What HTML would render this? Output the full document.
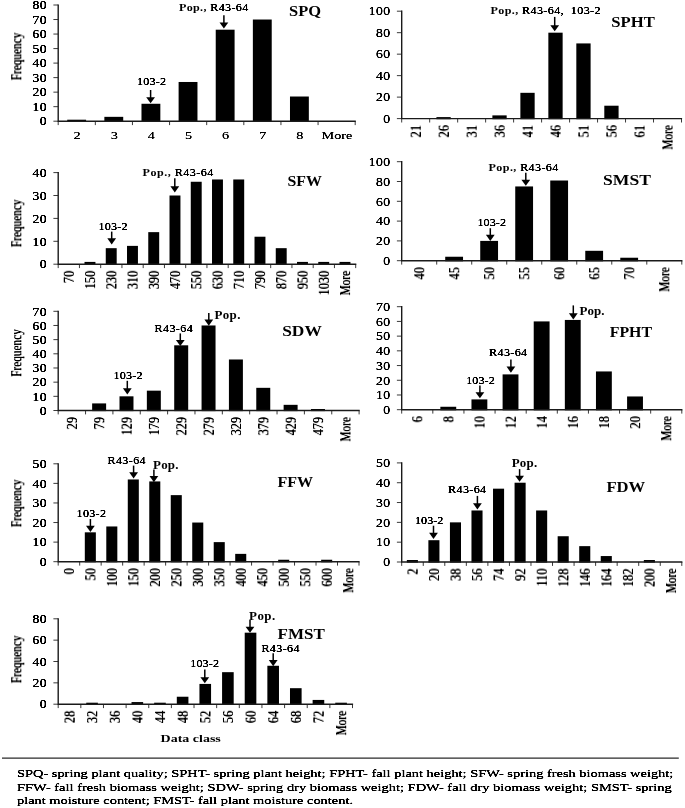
<!DOCTYPE html>
<html><head><meta charset="utf-8"><title>Histograms</title>
<style>
html,body{margin:0;padding:0;background:#fff;}
body{width:685px;height:808px;overflow:hidden;position:relative;font-family:"Liberation Serif", "DejaVu Serif", serif;}
svg{position:absolute;left:0;top:0;display:block;}
svg text{font-family:"Liberation Serif", "DejaVu Serif", serif;fill:#000;}
</style></head><body>
<svg width="685" height="808" viewBox="0 0 685 808">
<defs>
<filter id="f2" x="-10%" y="-30%" width="120%" height="160%"><feGaussianBlur stdDeviation="0.35"/><feComponentTransfer><feFuncA type="linear" slope="1.55" intercept="0"/></feComponentTransfer></filter>
<filter id="f3" x="-10%" y="-30%" width="120%" height="160%"><feGaussianBlur stdDeviation="0.45"/><feComponentTransfer><feFuncA type="linear" slope="2.0" intercept="0"/></feComponentTransfer></filter>
</defs>
<rect x="67.23" y="119.70" width="18.86" height="2.10" fill="#000"/>
<rect x="104.36" y="116.84" width="18.86" height="4.96" fill="#000"/>
<rect x="141.48" y="103.77" width="18.86" height="18.03" fill="#000"/>
<rect x="178.61" y="81.98" width="18.86" height="39.82" fill="#000"/>
<rect x="215.73" y="29.69" width="18.86" height="92.11" fill="#000"/>
<rect x="252.86" y="19.52" width="18.86" height="102.28" fill="#000"/>
<rect x="289.98" y="96.51" width="18.86" height="25.29" fill="#000"/>
<text transform="translate(46.90 125.45) scale(1.1 1)" font-size="12.4" text-anchor="end" letter-spacing="0.4" filter="url(#f3)">0</text>
<text transform="translate(46.90 110.92) scale(1.1 1)" font-size="12.4" text-anchor="end" letter-spacing="0.4" filter="url(#f3)">10</text>
<text transform="translate(46.90 96.40) scale(1.1 1)" font-size="12.4" text-anchor="end" letter-spacing="0.4" filter="url(#f3)">20</text>
<text transform="translate(46.90 81.88) scale(1.1 1)" font-size="12.4" text-anchor="end" letter-spacing="0.4" filter="url(#f3)">30</text>
<text transform="translate(46.90 67.35) scale(1.1 1)" font-size="12.4" text-anchor="end" letter-spacing="0.4" filter="url(#f3)">40</text>
<text transform="translate(46.90 52.83) scale(1.1 1)" font-size="12.4" text-anchor="end" letter-spacing="0.4" filter="url(#f3)">50</text>
<text transform="translate(46.90 38.30) scale(1.1 1)" font-size="12.4" text-anchor="end" letter-spacing="0.4" filter="url(#f3)">60</text>
<text transform="translate(46.90 23.77) scale(1.1 1)" font-size="12.4" text-anchor="end" letter-spacing="0.4" filter="url(#f3)">70</text>
<text transform="translate(46.90 9.25) scale(1.1 1)" font-size="12.4" text-anchor="end" letter-spacing="0.4" filter="url(#f3)">80</text>
<path d="M53.40 121.20H58.20M53.40 106.67H58.20M53.40 92.15H58.20M53.40 77.62H58.20M53.40 63.10H58.20M53.40 48.58H58.20M53.40 34.05H58.20M53.40 19.52H58.20M53.40 5.00H58.20M58.20 121.20V125.10M95.33 121.20V125.10M132.45 121.20V125.10M169.57 121.20V125.10M206.70 121.20V125.10M243.82 121.20V125.10M280.95 121.20V125.10M318.07 121.20V125.10M355.20 121.20V125.10" stroke="#3a3a3a" stroke-width="1" fill="none"/>
<path d="M58.20 4.40V121.20H355.80" stroke="#1a1a1a" stroke-width="1.4" fill="none"/>
<text transform="translate(77.06 138.50) scale(1.25 1)" font-size="11.4" text-anchor="middle" filter="url(#f2)">2</text>
<text transform="translate(114.19 138.50) scale(1.25 1)" font-size="11.4" text-anchor="middle" filter="url(#f2)">3</text>
<text transform="translate(151.31 138.50) scale(1.25 1)" font-size="11.4" text-anchor="middle" filter="url(#f2)">4</text>
<text transform="translate(188.44 138.50) scale(1.25 1)" font-size="11.4" text-anchor="middle" filter="url(#f2)">5</text>
<text transform="translate(225.56 138.50) scale(1.25 1)" font-size="11.4" text-anchor="middle" filter="url(#f2)">6</text>
<text transform="translate(262.69 138.50) scale(1.25 1)" font-size="11.4" text-anchor="middle" filter="url(#f2)">7</text>
<text transform="translate(299.81 138.50) scale(1.25 1)" font-size="11.4" text-anchor="middle" filter="url(#f2)">8</text>
<text transform="translate(336.94 138.50) scale(1.25 1)" font-size="11.4" text-anchor="middle" filter="url(#f2)">More</text>
<text x="289.00" y="15.80" font-size="13.8" textLength="32.00" lengthAdjust="spacingAndGlyphs" font-weight="bold">SPQ</text>
<text transform="translate(178.90 11.10) scale(1.1 1)" font-size="11.0" letter-spacing="0.319" font-weight="bold">Pop.,</text>
<text transform="translate(206.87 11.10) scale(1.1 1)" font-size="11.0" letter-spacing="0.319" xml:space="preserve" filter="url(#f3)"> R43-64</text>
<path d="M223.9 15.3V25.3" stroke="#000" stroke-width="1.5" fill="none"/>
<path d="M219.50 22.50L223.90 28.60L228.30 22.50Z" fill="#000"/>
<text transform="translate(137.10 84.90) scale(1.1 1)" font-size="11.0" textLength="26.36" lengthAdjust="spacing" filter="url(#f3)" xml:space="preserve">103-2</text>
<path d="M150.6 90V100" stroke="#000" stroke-width="1.5" fill="none"/>
<path d="M146.20 97.20L150.60 103.30L155.00 97.20Z" fill="#000"/>
<text transform="translate(21.3 56.50) rotate(-90) scale(1 1.31)" font-size="11.3" text-anchor="middle" filter="url(#f2)">Frequency</text>
<rect x="436.42" y="117.10" width="14.29" height="2.10" fill="#000"/>
<rect x="492.38" y="115.38" width="14.29" height="3.82" fill="#000"/>
<rect x="520.37" y="92.82" width="14.29" height="26.38" fill="#000"/>
<rect x="548.35" y="32.68" width="14.29" height="86.52" fill="#000"/>
<rect x="576.32" y="43.42" width="14.29" height="75.78" fill="#000"/>
<rect x="604.30" y="105.71" width="14.29" height="13.49" fill="#000"/>
<text transform="translate(390.40 122.85) scale(1.1 1)" font-size="12.4" text-anchor="end" letter-spacing="0.4" filter="url(#f3)">0</text>
<text transform="translate(390.40 101.37) scale(1.1 1)" font-size="12.4" text-anchor="end" letter-spacing="0.4" filter="url(#f3)">20</text>
<text transform="translate(390.40 79.89) scale(1.1 1)" font-size="12.4" text-anchor="end" letter-spacing="0.4" filter="url(#f3)">40</text>
<text transform="translate(390.40 58.41) scale(1.1 1)" font-size="12.4" text-anchor="end" letter-spacing="0.4" filter="url(#f3)">60</text>
<text transform="translate(390.40 36.93) scale(1.1 1)" font-size="12.4" text-anchor="end" letter-spacing="0.4" filter="url(#f3)">80</text>
<text transform="translate(390.40 15.45) scale(1.1 1)" font-size="12.4" text-anchor="end" letter-spacing="0.4" filter="url(#f3)">100</text>
<path d="M396.90 118.60H401.70M396.90 97.12H401.70M396.90 75.64H401.70M396.90 54.16H401.70M396.90 32.68H401.70M396.90 11.20H401.70M401.70 118.60V122.50M429.68 118.60V122.50M457.66 118.60V122.50M485.64 118.60V122.50M513.62 118.60V122.50M541.60 118.60V122.50M569.58 118.60V122.50M597.56 118.60V122.50M625.54 118.60V122.50M653.52 118.60V122.50M681.50 118.60V122.50" stroke="#3a3a3a" stroke-width="1" fill="none"/>
<path d="M401.70 10.60V118.60H682.10" stroke="#1a1a1a" stroke-width="1.4" fill="none"/>
<text transform="translate(420.69 125.20) rotate(-90) scale(1.0 1.2)" font-size="12.2" text-anchor="end" filter="url(#f2)">21</text>
<text transform="translate(448.67 125.20) rotate(-90) scale(1.0 1.2)" font-size="12.2" text-anchor="end" filter="url(#f2)">26</text>
<text transform="translate(476.65 125.20) rotate(-90) scale(1.0 1.2)" font-size="12.2" text-anchor="end" filter="url(#f2)">31</text>
<text transform="translate(504.63 125.20) rotate(-90) scale(1.0 1.2)" font-size="12.2" text-anchor="end" filter="url(#f2)">36</text>
<text transform="translate(532.61 125.20) rotate(-90) scale(1.0 1.2)" font-size="12.2" text-anchor="end" filter="url(#f2)">41</text>
<text transform="translate(560.59 125.20) rotate(-90) scale(1.0 1.2)" font-size="12.2" text-anchor="end" filter="url(#f2)">46</text>
<text transform="translate(588.57 125.20) rotate(-90) scale(1.0 1.2)" font-size="12.2" text-anchor="end" filter="url(#f2)">51</text>
<text transform="translate(616.55 125.20) rotate(-90) scale(1.0 1.2)" font-size="12.2" text-anchor="end" filter="url(#f2)">56</text>
<text transform="translate(644.53 125.20) rotate(-90) scale(1.0 1.2)" font-size="12.2" text-anchor="end" filter="url(#f2)">61</text>
<text transform="translate(672.51 125.20) rotate(-90) scale(1.0 1.2)" font-size="12.2" text-anchor="end" textLength="24.6" lengthAdjust="spacingAndGlyphs" filter="url(#f2)">More</text>
<text x="611.30" y="27.00" font-size="13.8" textLength="43.50" lengthAdjust="spacingAndGlyphs" font-weight="bold">SPHT</text>
<text transform="translate(490.60 13.70) scale(1.1 1)" font-size="11.0" letter-spacing="0.342" font-weight="bold">Pop.,</text>
<text transform="translate(518.70 13.70) scale(1.1 1)" font-size="11.0" letter-spacing="0.342" xml:space="preserve" filter="url(#f3)"> R43-64,  103-2</text>
<path d="M554.7 16.9V28" stroke="#000" stroke-width="1.5" fill="none"/>
<path d="M550.30 25.20L554.70 31.30L559.10 25.20Z" fill="#000"/>
<rect x="84.51" y="261.91" width="10.93" height="2.89" fill="#000"/>
<rect x="105.76" y="248.17" width="10.93" height="16.63" fill="#000"/>
<rect x="127.01" y="245.88" width="10.93" height="18.92" fill="#000"/>
<rect x="148.26" y="232.14" width="10.93" height="32.66" fill="#000"/>
<rect x="169.51" y="195.50" width="10.93" height="69.30" fill="#000"/>
<rect x="190.76" y="181.76" width="10.93" height="83.04" fill="#000"/>
<rect x="212.01" y="179.47" width="10.93" height="85.33" fill="#000"/>
<rect x="233.26" y="179.47" width="10.93" height="85.33" fill="#000"/>
<rect x="254.51" y="236.72" width="10.93" height="28.08" fill="#000"/>
<rect x="275.76" y="248.17" width="10.93" height="16.63" fill="#000"/>
<rect x="297.01" y="261.91" width="10.93" height="2.89" fill="#000"/>
<rect x="318.26" y="261.91" width="10.93" height="2.89" fill="#000"/>
<rect x="339.51" y="261.91" width="10.93" height="2.89" fill="#000"/>
<text transform="translate(46.90 268.45) scale(1.1 1)" font-size="12.4" text-anchor="end" letter-spacing="0.4" filter="url(#f3)">0</text>
<text transform="translate(46.90 245.55) scale(1.1 1)" font-size="12.4" text-anchor="end" letter-spacing="0.4" filter="url(#f3)">10</text>
<text transform="translate(46.90 222.65) scale(1.1 1)" font-size="12.4" text-anchor="end" letter-spacing="0.4" filter="url(#f3)">20</text>
<text transform="translate(46.90 199.75) scale(1.1 1)" font-size="12.4" text-anchor="end" letter-spacing="0.4" filter="url(#f3)">30</text>
<text transform="translate(46.90 176.85) scale(1.1 1)" font-size="12.4" text-anchor="end" letter-spacing="0.4" filter="url(#f3)">40</text>
<path d="M53.40 264.20H58.20M53.40 241.30H58.20M53.40 218.40H58.20M53.40 195.50H58.20M53.40 172.60H58.20M58.20 264.20V268.10M79.45 264.20V268.10M100.70 264.20V268.10M121.95 264.20V268.10M143.20 264.20V268.10M164.45 264.20V268.10M185.70 264.20V268.10M206.95 264.20V268.10M228.20 264.20V268.10M249.45 264.20V268.10M270.70 264.20V268.10M291.95 264.20V268.10M313.20 264.20V268.10M334.45 264.20V268.10M355.70 264.20V268.10" stroke="#3a3a3a" stroke-width="1" fill="none"/>
<path d="M58.20 172.00V264.20H356.30" stroke="#1a1a1a" stroke-width="1.4" fill="none"/>
<text transform="translate(73.83 270.80) rotate(-90) scale(1.0 1.2)" font-size="12.2" text-anchor="end" filter="url(#f2)">70</text>
<text transform="translate(95.08 270.80) rotate(-90) scale(1.0 1.2)" font-size="12.2" text-anchor="end" filter="url(#f2)">150</text>
<text transform="translate(116.33 270.80) rotate(-90) scale(1.0 1.2)" font-size="12.2" text-anchor="end" filter="url(#f2)">230</text>
<text transform="translate(137.57 270.80) rotate(-90) scale(1.0 1.2)" font-size="12.2" text-anchor="end" filter="url(#f2)">310</text>
<text transform="translate(158.82 270.80) rotate(-90) scale(1.0 1.2)" font-size="12.2" text-anchor="end" filter="url(#f2)">390</text>
<text transform="translate(180.07 270.80) rotate(-90) scale(1.0 1.2)" font-size="12.2" text-anchor="end" filter="url(#f2)">470</text>
<text transform="translate(201.32 270.80) rotate(-90) scale(1.0 1.2)" font-size="12.2" text-anchor="end" filter="url(#f2)">550</text>
<text transform="translate(222.57 270.80) rotate(-90) scale(1.0 1.2)" font-size="12.2" text-anchor="end" filter="url(#f2)">630</text>
<text transform="translate(243.82 270.80) rotate(-90) scale(1.0 1.2)" font-size="12.2" text-anchor="end" filter="url(#f2)">710</text>
<text transform="translate(265.07 270.80) rotate(-90) scale(1.0 1.2)" font-size="12.2" text-anchor="end" filter="url(#f2)">790</text>
<text transform="translate(286.32 270.80) rotate(-90) scale(1.0 1.2)" font-size="12.2" text-anchor="end" filter="url(#f2)">870</text>
<text transform="translate(307.57 270.80) rotate(-90) scale(1.0 1.2)" font-size="12.2" text-anchor="end" filter="url(#f2)">950</text>
<text transform="translate(328.82 270.80) rotate(-90) scale(1.0 1.2)" font-size="12.2" text-anchor="end" filter="url(#f2)">1030</text>
<text transform="translate(350.07 270.80) rotate(-90) scale(1.0 1.2)" font-size="12.2" text-anchor="end" textLength="24.6" lengthAdjust="spacingAndGlyphs" filter="url(#f2)">More</text>
<text x="287.40" y="185.50" font-size="13.8" textLength="34.40" lengthAdjust="spacingAndGlyphs" font-weight="bold">SFW</text>
<text transform="translate(142.60 176.00) scale(1.1 1)" font-size="11.0" letter-spacing="0.434" font-weight="bold">Pop.,</text>
<text transform="translate(171.21 176.00) scale(1.1 1)" font-size="11.0" letter-spacing="0.434" xml:space="preserve" filter="url(#f3)"> R43-64</text>
<path d="M174.8 178.2V189.1" stroke="#000" stroke-width="1.5" fill="none"/>
<path d="M170.40 186.30L174.80 192.40L179.20 186.30Z" fill="#000"/>
<text transform="translate(98.40 229.80) scale(1.1 1)" font-size="11.0" textLength="26.45" lengthAdjust="spacing" filter="url(#f3)" xml:space="preserve">103-2</text>
<path d="M111.7 231.6V241.1" stroke="#000" stroke-width="1.5" fill="none"/>
<path d="M107.30 238.30L111.70 244.40L116.10 238.30Z" fill="#000"/>
<text transform="translate(21.3 223.40) rotate(-90) scale(1 1.31)" font-size="11.3" text-anchor="middle" filter="url(#f2)">Frequency</text>
<rect x="445.22" y="256.74" width="17.81" height="4.56" fill="#000"/>
<rect x="480.23" y="240.90" width="17.81" height="20.40" fill="#000"/>
<rect x="515.24" y="186.45" width="17.81" height="74.85" fill="#000"/>
<rect x="550.25" y="180.51" width="17.81" height="80.79" fill="#000"/>
<rect x="585.27" y="250.80" width="17.81" height="10.50" fill="#000"/>
<rect x="620.28" y="257.73" width="17.81" height="3.57" fill="#000"/>
<text transform="translate(390.40 264.95) scale(1.1 1)" font-size="12.4" text-anchor="end" letter-spacing="0.4" filter="url(#f3)">0</text>
<text transform="translate(390.40 245.15) scale(1.1 1)" font-size="12.4" text-anchor="end" letter-spacing="0.4" filter="url(#f3)">20</text>
<text transform="translate(390.40 225.35) scale(1.1 1)" font-size="12.4" text-anchor="end" letter-spacing="0.4" filter="url(#f3)">40</text>
<text transform="translate(390.40 205.55) scale(1.1 1)" font-size="12.4" text-anchor="end" letter-spacing="0.4" filter="url(#f3)">60</text>
<text transform="translate(390.40 185.75) scale(1.1 1)" font-size="12.4" text-anchor="end" letter-spacing="0.4" filter="url(#f3)">80</text>
<text transform="translate(390.40 165.95) scale(1.1 1)" font-size="12.4" text-anchor="end" letter-spacing="0.4" filter="url(#f3)">100</text>
<path d="M396.90 260.70H401.70M396.90 240.90H401.70M396.90 221.10H401.70M396.90 201.30H401.70M396.90 181.50H401.70M396.90 161.70H401.70M401.70 260.70V264.60M436.71 260.70V264.60M471.72 260.70V264.60M506.74 260.70V264.60M541.75 260.70V264.60M576.76 260.70V264.60M611.77 260.70V264.60M646.79 260.70V264.60M681.80 260.70V264.60" stroke="#3a3a3a" stroke-width="1" fill="none"/>
<path d="M401.70 161.10V260.70H682.40" stroke="#1a1a1a" stroke-width="1.4" fill="none"/>
<text transform="translate(424.21 267.30) rotate(-90) scale(1.0 1.2)" font-size="12.2" text-anchor="end" filter="url(#f2)">40</text>
<text transform="translate(459.22 267.30) rotate(-90) scale(1.0 1.2)" font-size="12.2" text-anchor="end" filter="url(#f2)">45</text>
<text transform="translate(494.23 267.30) rotate(-90) scale(1.0 1.2)" font-size="12.2" text-anchor="end" filter="url(#f2)">50</text>
<text transform="translate(529.24 267.30) rotate(-90) scale(1.0 1.2)" font-size="12.2" text-anchor="end" filter="url(#f2)">55</text>
<text transform="translate(564.26 267.30) rotate(-90) scale(1.0 1.2)" font-size="12.2" text-anchor="end" filter="url(#f2)">60</text>
<text transform="translate(599.27 267.30) rotate(-90) scale(1.0 1.2)" font-size="12.2" text-anchor="end" filter="url(#f2)">65</text>
<text transform="translate(634.28 267.30) rotate(-90) scale(1.0 1.2)" font-size="12.2" text-anchor="end" filter="url(#f2)">70</text>
<text transform="translate(669.29 267.30) rotate(-90) scale(1.0 1.2)" font-size="12.2" text-anchor="end" textLength="24.6" lengthAdjust="spacingAndGlyphs" filter="url(#f2)">More</text>
<text x="603.00" y="184.50" font-size="13.8" textLength="47.90" lengthAdjust="spacingAndGlyphs" font-weight="bold">SMST</text>
<text transform="translate(488.60 170.60) scale(1.1 1)" font-size="11.0" letter-spacing="0.352" font-weight="bold">Pop.,</text>
<text transform="translate(516.75 170.60) scale(1.1 1)" font-size="11.0" letter-spacing="0.352" xml:space="preserve" filter="url(#f3)"> R43-64</text>
<path d="M525.8 172.8V182.5" stroke="#000" stroke-width="1.5" fill="none"/>
<path d="M521.40 179.70L525.80 185.80L530.20 179.70Z" fill="#000"/>
<text transform="translate(477.40 225.70) scale(1.1 1)" font-size="11.0" textLength="26.00" lengthAdjust="spacing" filter="url(#f3)" xml:space="preserve">103-2</text>
<path d="M490.3 228.2V237.6" stroke="#000" stroke-width="1.5" fill="none"/>
<path d="M485.90 234.80L490.30 240.90L494.70 234.80Z" fill="#000"/>
<rect x="92.14" y="403.41" width="13.98" height="7.69" fill="#000"/>
<rect x="119.50" y="396.33" width="13.98" height="14.77" fill="#000"/>
<rect x="146.85" y="390.66" width="13.98" height="20.44" fill="#000"/>
<rect x="174.21" y="345.31" width="13.98" height="65.79" fill="#000"/>
<rect x="201.56" y="325.47" width="13.98" height="85.63" fill="#000"/>
<rect x="228.92" y="359.48" width="13.98" height="51.62" fill="#000"/>
<rect x="256.27" y="387.83" width="13.98" height="23.27" fill="#000"/>
<rect x="283.63" y="404.83" width="13.98" height="6.27" fill="#000"/>
<rect x="310.98" y="409.00" width="13.98" height="2.10" fill="#000"/>
<text transform="translate(46.90 414.75) scale(1.1 1)" font-size="12.4" text-anchor="end" letter-spacing="0.4" filter="url(#f3)">0</text>
<text transform="translate(46.90 400.58) scale(1.1 1)" font-size="12.4" text-anchor="end" letter-spacing="0.4" filter="url(#f3)">10</text>
<text transform="translate(46.90 386.41) scale(1.1 1)" font-size="12.4" text-anchor="end" letter-spacing="0.4" filter="url(#f3)">20</text>
<text transform="translate(46.90 372.24) scale(1.1 1)" font-size="12.4" text-anchor="end" letter-spacing="0.4" filter="url(#f3)">30</text>
<text transform="translate(46.90 358.06) scale(1.1 1)" font-size="12.4" text-anchor="end" letter-spacing="0.4" filter="url(#f3)">40</text>
<text transform="translate(46.90 343.89) scale(1.1 1)" font-size="12.4" text-anchor="end" letter-spacing="0.4" filter="url(#f3)">50</text>
<text transform="translate(46.90 329.72) scale(1.1 1)" font-size="12.4" text-anchor="end" letter-spacing="0.4" filter="url(#f3)">60</text>
<text transform="translate(46.90 315.55) scale(1.1 1)" font-size="12.4" text-anchor="end" letter-spacing="0.4" filter="url(#f3)">70</text>
<path d="M53.40 410.50H58.20M53.40 396.33H58.20M53.40 382.16H58.20M53.40 367.99H58.20M53.40 353.81H58.20M53.40 339.64H58.20M53.40 325.47H58.20M53.40 311.30H58.20M58.20 410.50V414.40M85.55 410.50V414.40M112.91 410.50V414.40M140.26 410.50V414.40M167.62 410.50V414.40M194.97 410.50V414.40M222.33 410.50V414.40M249.68 410.50V414.40M277.04 410.50V414.40M304.39 410.50V414.40M331.75 410.50V414.40M359.10 410.50V414.40" stroke="#3a3a3a" stroke-width="1" fill="none"/>
<path d="M58.20 310.70V410.50H359.70" stroke="#1a1a1a" stroke-width="1.4" fill="none"/>
<text transform="translate(76.88 417.10) rotate(-90) scale(1.0 1.2)" font-size="12.2" text-anchor="end" filter="url(#f2)">29</text>
<text transform="translate(104.23 417.10) rotate(-90) scale(1.0 1.2)" font-size="12.2" text-anchor="end" filter="url(#f2)">79</text>
<text transform="translate(131.59 417.10) rotate(-90) scale(1.0 1.2)" font-size="12.2" text-anchor="end" filter="url(#f2)">129</text>
<text transform="translate(158.94 417.10) rotate(-90) scale(1.0 1.2)" font-size="12.2" text-anchor="end" filter="url(#f2)">179</text>
<text transform="translate(186.30 417.10) rotate(-90) scale(1.0 1.2)" font-size="12.2" text-anchor="end" filter="url(#f2)">229</text>
<text transform="translate(213.65 417.10) rotate(-90) scale(1.0 1.2)" font-size="12.2" text-anchor="end" filter="url(#f2)">279</text>
<text transform="translate(241.00 417.10) rotate(-90) scale(1.0 1.2)" font-size="12.2" text-anchor="end" filter="url(#f2)">329</text>
<text transform="translate(268.36 417.10) rotate(-90) scale(1.0 1.2)" font-size="12.2" text-anchor="end" filter="url(#f2)">379</text>
<text transform="translate(295.71 417.10) rotate(-90) scale(1.0 1.2)" font-size="12.2" text-anchor="end" filter="url(#f2)">429</text>
<text transform="translate(323.07 417.10) rotate(-90) scale(1.0 1.2)" font-size="12.2" text-anchor="end" filter="url(#f2)">479</text>
<text transform="translate(350.42 417.10) rotate(-90) scale(1.0 1.2)" font-size="12.2" text-anchor="end" textLength="24.6" lengthAdjust="spacingAndGlyphs" filter="url(#f2)">More</text>
<text x="282.20" y="335.50" font-size="13.8" textLength="39.60" lengthAdjust="spacingAndGlyphs" font-weight="bold">SDW</text>
<text transform="translate(214.40 319.10) scale(1.1 1)" font-size="11.8" textLength="23.64" lengthAdjust="spacing" font-weight="bold" xml:space="preserve">Pop.</text>
<path d="M208.8 313V322.4" stroke="#000" stroke-width="1.5" fill="none"/>
<path d="M204.40 319.60L208.80 325.70L213.20 319.60Z" fill="#000"/>
<text transform="translate(154.60 331.90) scale(1.1 1)" font-size="11.0" textLength="34.64" lengthAdjust="spacing" filter="url(#f3)" xml:space="preserve">R43-64</text>
<path d="M180.3 333.4V342.8" stroke="#000" stroke-width="1.5" fill="none"/>
<path d="M175.90 340.00L180.30 346.10L184.70 340.00Z" fill="#000"/>
<text transform="translate(113.50 379.10) scale(1.1 1)" font-size="11.0" textLength="26.45" lengthAdjust="spacing" filter="url(#f3)" xml:space="preserve">103-2</text>
<path d="M127.3 380.8V391.1" stroke="#000" stroke-width="1.5" fill="none"/>
<path d="M122.90 388.30L127.30 394.40L131.70 388.30Z" fill="#000"/>
<text transform="translate(21.3 353.00) rotate(-90) scale(1 1.31)" font-size="11.3" text-anchor="middle" filter="url(#f2)">Frequency</text>
<rect x="440.35" y="406.76" width="15.86" height="3.54" fill="#000"/>
<rect x="471.47" y="399.40" width="15.86" height="10.90" fill="#000"/>
<rect x="502.60" y="374.39" width="15.86" height="35.91" fill="#000"/>
<rect x="533.72" y="321.41" width="15.86" height="88.89" fill="#000"/>
<rect x="564.84" y="319.94" width="15.86" height="90.36" fill="#000"/>
<rect x="595.96" y="371.44" width="15.86" height="38.86" fill="#000"/>
<rect x="627.09" y="396.46" width="15.86" height="13.84" fill="#000"/>
<text transform="translate(390.40 413.95) scale(1.1 1)" font-size="12.4" text-anchor="end" letter-spacing="0.4" filter="url(#f3)">0</text>
<text transform="translate(390.40 399.24) scale(1.1 1)" font-size="12.4" text-anchor="end" letter-spacing="0.4" filter="url(#f3)">10</text>
<text transform="translate(390.40 384.52) scale(1.1 1)" font-size="12.4" text-anchor="end" letter-spacing="0.4" filter="url(#f3)">20</text>
<text transform="translate(390.40 369.81) scale(1.1 1)" font-size="12.4" text-anchor="end" letter-spacing="0.4" filter="url(#f3)">30</text>
<text transform="translate(390.40 355.09) scale(1.1 1)" font-size="12.4" text-anchor="end" letter-spacing="0.4" filter="url(#f3)">40</text>
<text transform="translate(390.40 340.38) scale(1.1 1)" font-size="12.4" text-anchor="end" letter-spacing="0.4" filter="url(#f3)">50</text>
<text transform="translate(390.40 325.66) scale(1.1 1)" font-size="12.4" text-anchor="end" letter-spacing="0.4" filter="url(#f3)">60</text>
<text transform="translate(390.40 310.95) scale(1.1 1)" font-size="12.4" text-anchor="end" letter-spacing="0.4" filter="url(#f3)">70</text>
<path d="M396.90 409.70H401.70M396.90 394.99H401.70M396.90 380.27H401.70M396.90 365.56H401.70M396.90 350.84H401.70M396.90 336.13H401.70M396.90 321.41H401.70M396.90 306.70H401.70M401.70 409.70V413.60M432.82 409.70V413.60M463.94 409.70V413.60M495.07 409.70V413.60M526.19 409.70V413.60M557.31 409.70V413.60M588.43 409.70V413.60M619.56 409.70V413.60M650.68 409.70V413.60M681.80 409.70V413.60" stroke="#3a3a3a" stroke-width="1" fill="none"/>
<path d="M401.70 306.10V409.70H682.40" stroke="#1a1a1a" stroke-width="1.4" fill="none"/>
<text transform="translate(422.26 416.30) rotate(-90) scale(1.0 1.2)" font-size="12.2" text-anchor="end" filter="url(#f2)">6</text>
<text transform="translate(453.38 416.30) rotate(-90) scale(1.0 1.2)" font-size="12.2" text-anchor="end" filter="url(#f2)">8</text>
<text transform="translate(484.51 416.30) rotate(-90) scale(1.0 1.2)" font-size="12.2" text-anchor="end" filter="url(#f2)">10</text>
<text transform="translate(515.63 416.30) rotate(-90) scale(1.0 1.2)" font-size="12.2" text-anchor="end" filter="url(#f2)">12</text>
<text transform="translate(546.75 416.30) rotate(-90) scale(1.0 1.2)" font-size="12.2" text-anchor="end" filter="url(#f2)">14</text>
<text transform="translate(577.87 416.30) rotate(-90) scale(1.0 1.2)" font-size="12.2" text-anchor="end" filter="url(#f2)">16</text>
<text transform="translate(608.99 416.30) rotate(-90) scale(1.0 1.2)" font-size="12.2" text-anchor="end" filter="url(#f2)">18</text>
<text transform="translate(640.12 416.30) rotate(-90) scale(1.0 1.2)" font-size="12.2" text-anchor="end" filter="url(#f2)">20</text>
<text transform="translate(671.24 416.30) rotate(-90) scale(1.0 1.2)" font-size="12.2" text-anchor="end" textLength="24.6" lengthAdjust="spacingAndGlyphs" filter="url(#f2)">More</text>
<text x="609.70" y="336.90" font-size="13.8" textLength="42.40" lengthAdjust="spacingAndGlyphs" font-weight="bold">FPHT</text>
<text transform="translate(579.50 314.90) scale(1.1 1)" font-size="11.8" textLength="22.64" lengthAdjust="spacing" font-weight="bold" xml:space="preserve">Pop.</text>
<path d="M573.3 305.4V316.1" stroke="#000" stroke-width="1.5" fill="none"/>
<path d="M568.90 313.30L573.30 319.40L577.70 313.30Z" fill="#000"/>
<text transform="translate(489.10 356.30) scale(1.1 1)" font-size="11.0" textLength="34.55" lengthAdjust="spacing" filter="url(#f3)" xml:space="preserve">R43-64</text>
<path d="M510.9 359.5V369.4" stroke="#000" stroke-width="1.5" fill="none"/>
<path d="M506.50 366.60L510.90 372.70L515.30 366.60Z" fill="#000"/>
<text transform="translate(466.20 383.60) scale(1.1 1)" font-size="11.0" textLength="26.00" lengthAdjust="spacing" filter="url(#f3)" xml:space="preserve">103-2</text>
<path d="M479.9 385.6V395" stroke="#000" stroke-width="1.5" fill="none"/>
<path d="M475.50 392.20L479.90 398.30L484.30 392.20Z" fill="#000"/>
<rect x="84.81" y="532.33" width="11.04" height="29.97" fill="#000"/>
<rect x="106.29" y="526.46" width="11.04" height="35.84" fill="#000"/>
<rect x="127.78" y="479.46" width="11.04" height="82.84" fill="#000"/>
<rect x="149.26" y="481.42" width="11.04" height="80.88" fill="#000"/>
<rect x="170.75" y="495.13" width="11.04" height="67.17" fill="#000"/>
<rect x="192.24" y="522.54" width="11.04" height="39.76" fill="#000"/>
<rect x="213.72" y="542.12" width="11.04" height="20.18" fill="#000"/>
<rect x="235.21" y="553.87" width="11.04" height="8.43" fill="#000"/>
<rect x="278.18" y="559.74" width="11.04" height="2.56" fill="#000"/>
<rect x="321.15" y="559.74" width="11.04" height="2.56" fill="#000"/>
<text transform="translate(46.90 565.95) scale(1.1 1)" font-size="12.4" text-anchor="end" letter-spacing="0.4" filter="url(#f3)">0</text>
<text transform="translate(46.90 546.37) scale(1.1 1)" font-size="12.4" text-anchor="end" letter-spacing="0.4" filter="url(#f3)">10</text>
<text transform="translate(46.90 526.79) scale(1.1 1)" font-size="12.4" text-anchor="end" letter-spacing="0.4" filter="url(#f3)">20</text>
<text transform="translate(46.90 507.21) scale(1.1 1)" font-size="12.4" text-anchor="end" letter-spacing="0.4" filter="url(#f3)">30</text>
<text transform="translate(46.90 487.63) scale(1.1 1)" font-size="12.4" text-anchor="end" letter-spacing="0.4" filter="url(#f3)">40</text>
<text transform="translate(46.90 468.05) scale(1.1 1)" font-size="12.4" text-anchor="end" letter-spacing="0.4" filter="url(#f3)">50</text>
<path d="M53.40 561.70H58.20M53.40 542.12H58.20M53.40 522.54H58.20M53.40 502.96H58.20M53.40 483.38H58.20M53.40 463.80H58.20M58.20 561.70V565.60M79.69 561.70V565.60M101.17 561.70V565.60M122.66 561.70V565.60M144.14 561.70V565.60M165.63 561.70V565.60M187.11 561.70V565.60M208.60 561.70V565.60M230.09 561.70V565.60M251.57 561.70V565.60M273.06 561.70V565.60M294.54 561.70V565.60M316.03 561.70V565.60M337.51 561.70V565.60M359.00 561.70V565.60" stroke="#3a3a3a" stroke-width="1" fill="none"/>
<path d="M58.20 463.20V561.70H359.60" stroke="#1a1a1a" stroke-width="1.4" fill="none"/>
<text transform="translate(73.94 568.30) rotate(-90) scale(1.0 1.2)" font-size="12.2" text-anchor="end" filter="url(#f2)">0</text>
<text transform="translate(95.43 568.30) rotate(-90) scale(1.0 1.2)" font-size="12.2" text-anchor="end" filter="url(#f2)">50</text>
<text transform="translate(116.91 568.30) rotate(-90) scale(1.0 1.2)" font-size="12.2" text-anchor="end" filter="url(#f2)">100</text>
<text transform="translate(138.40 568.30) rotate(-90) scale(1.0 1.2)" font-size="12.2" text-anchor="end" filter="url(#f2)">150</text>
<text transform="translate(159.89 568.30) rotate(-90) scale(1.0 1.2)" font-size="12.2" text-anchor="end" filter="url(#f2)">200</text>
<text transform="translate(181.37 568.30) rotate(-90) scale(1.0 1.2)" font-size="12.2" text-anchor="end" filter="url(#f2)">250</text>
<text transform="translate(202.86 568.30) rotate(-90) scale(1.0 1.2)" font-size="12.2" text-anchor="end" filter="url(#f2)">300</text>
<text transform="translate(224.34 568.30) rotate(-90) scale(1.0 1.2)" font-size="12.2" text-anchor="end" filter="url(#f2)">350</text>
<text transform="translate(245.83 568.30) rotate(-90) scale(1.0 1.2)" font-size="12.2" text-anchor="end" filter="url(#f2)">400</text>
<text transform="translate(267.31 568.30) rotate(-90) scale(1.0 1.2)" font-size="12.2" text-anchor="end" filter="url(#f2)">450</text>
<text transform="translate(288.80 568.30) rotate(-90) scale(1.0 1.2)" font-size="12.2" text-anchor="end" filter="url(#f2)">500</text>
<text transform="translate(310.29 568.30) rotate(-90) scale(1.0 1.2)" font-size="12.2" text-anchor="end" filter="url(#f2)">550</text>
<text transform="translate(331.77 568.30) rotate(-90) scale(1.0 1.2)" font-size="12.2" text-anchor="end" filter="url(#f2)">600</text>
<text transform="translate(353.26 568.30) rotate(-90) scale(1.0 1.2)" font-size="12.2" text-anchor="end" textLength="24.6" lengthAdjust="spacingAndGlyphs" filter="url(#f2)">More</text>
<text x="277.50" y="486.70" font-size="13.8" textLength="35.60" lengthAdjust="spacingAndGlyphs" font-weight="bold">FFW</text>
<text transform="translate(107.50 464.30) scale(1.1 1)" font-size="11.0" textLength="34.64" lengthAdjust="spacing" filter="url(#f3)" xml:space="preserve">R43-64</text>
<path d="M133.6 465.6V475.1" stroke="#000" stroke-width="1.5" fill="none"/>
<path d="M129.20 472.30L133.60 478.40L138.00 472.30Z" fill="#000"/>
<text transform="translate(153.10 469.20) scale(1.1 1)" font-size="11.8" textLength="23.09" lengthAdjust="spacing" font-weight="bold" xml:space="preserve">Pop.</text>
<path d="M153.9 469.6V478.9" stroke="#000" stroke-width="1.5" fill="none"/>
<path d="M149.50 476.10L153.90 482.20L158.30 476.10Z" fill="#000"/>
<text transform="translate(76.60 517.00) scale(1.1 1)" font-size="11.0" textLength="26.73" lengthAdjust="spacing" filter="url(#f3)" xml:space="preserve">103-2</text>
<path d="M90.4 519V528.6" stroke="#000" stroke-width="1.5" fill="none"/>
<path d="M86.00 525.80L90.40 531.90L94.80 525.80Z" fill="#000"/>
<text transform="translate(21.3 503.40) rotate(-90) scale(1 1.31)" font-size="11.3" text-anchor="middle" filter="url(#f2)">Frequency</text>
<rect x="406.84" y="560.02" width="11.07" height="2.58" fill="#000"/>
<rect x="428.38" y="540.20" width="11.07" height="22.40" fill="#000"/>
<rect x="449.93" y="522.36" width="11.07" height="40.24" fill="#000"/>
<rect x="471.47" y="510.47" width="11.07" height="52.13" fill="#000"/>
<rect x="493.02" y="488.67" width="11.07" height="73.93" fill="#000"/>
<rect x="514.57" y="482.72" width="11.07" height="79.88" fill="#000"/>
<rect x="536.11" y="510.47" width="11.07" height="52.13" fill="#000"/>
<rect x="557.66" y="536.23" width="11.07" height="26.37" fill="#000"/>
<rect x="579.21" y="546.14" width="11.07" height="16.46" fill="#000"/>
<rect x="600.75" y="556.05" width="11.07" height="6.55" fill="#000"/>
<rect x="643.84" y="560.02" width="11.07" height="2.58" fill="#000"/>
<text transform="translate(390.40 566.25) scale(1.1 1)" font-size="12.4" text-anchor="end" letter-spacing="0.4" filter="url(#f3)">0</text>
<text transform="translate(390.40 546.43) scale(1.1 1)" font-size="12.4" text-anchor="end" letter-spacing="0.4" filter="url(#f3)">10</text>
<text transform="translate(390.40 526.61) scale(1.1 1)" font-size="12.4" text-anchor="end" letter-spacing="0.4" filter="url(#f3)">20</text>
<text transform="translate(390.40 506.79) scale(1.1 1)" font-size="12.4" text-anchor="end" letter-spacing="0.4" filter="url(#f3)">30</text>
<text transform="translate(390.40 486.97) scale(1.1 1)" font-size="12.4" text-anchor="end" letter-spacing="0.4" filter="url(#f3)">40</text>
<text transform="translate(390.40 467.15) scale(1.1 1)" font-size="12.4" text-anchor="end" letter-spacing="0.4" filter="url(#f3)">50</text>
<path d="M396.90 562.00H401.70M396.90 542.18H401.70M396.90 522.36H401.70M396.90 502.54H401.70M396.90 482.72H401.70M396.90 462.90H401.70M401.70 562.00V565.90M423.25 562.00V565.90M444.79 562.00V565.90M466.34 562.00V565.90M487.88 562.00V565.90M509.43 562.00V565.90M530.98 562.00V565.90M552.52 562.00V565.90M574.07 562.00V565.90M595.62 562.00V565.90M617.16 562.00V565.90M638.71 562.00V565.90M660.25 562.00V565.90M681.80 562.00V565.90" stroke="#3a3a3a" stroke-width="1" fill="none"/>
<path d="M401.70 462.30V562.00H682.40" stroke="#1a1a1a" stroke-width="1.4" fill="none"/>
<text transform="translate(417.47 568.60) rotate(-90) scale(1.0 1.2)" font-size="12.2" text-anchor="end" filter="url(#f2)">2</text>
<text transform="translate(439.02 568.60) rotate(-90) scale(1.0 1.2)" font-size="12.2" text-anchor="end" filter="url(#f2)">20</text>
<text transform="translate(460.57 568.60) rotate(-90) scale(1.0 1.2)" font-size="12.2" text-anchor="end" filter="url(#f2)">38</text>
<text transform="translate(482.11 568.60) rotate(-90) scale(1.0 1.2)" font-size="12.2" text-anchor="end" filter="url(#f2)">56</text>
<text transform="translate(503.66 568.60) rotate(-90) scale(1.0 1.2)" font-size="12.2" text-anchor="end" filter="url(#f2)">74</text>
<text transform="translate(525.20 568.60) rotate(-90) scale(1.0 1.2)" font-size="12.2" text-anchor="end" filter="url(#f2)">92</text>
<text transform="translate(546.75 568.60) rotate(-90) scale(1.0 1.2)" font-size="12.2" text-anchor="end" filter="url(#f2)">110</text>
<text transform="translate(568.30 568.60) rotate(-90) scale(1.0 1.2)" font-size="12.2" text-anchor="end" filter="url(#f2)">128</text>
<text transform="translate(589.84 568.60) rotate(-90) scale(1.0 1.2)" font-size="12.2" text-anchor="end" filter="url(#f2)">146</text>
<text transform="translate(611.39 568.60) rotate(-90) scale(1.0 1.2)" font-size="12.2" text-anchor="end" filter="url(#f2)">164</text>
<text transform="translate(632.93 568.60) rotate(-90) scale(1.0 1.2)" font-size="12.2" text-anchor="end" filter="url(#f2)">182</text>
<text transform="translate(654.48 568.60) rotate(-90) scale(1.0 1.2)" font-size="12.2" text-anchor="end" filter="url(#f2)">200</text>
<text transform="translate(676.03 568.60) rotate(-90) scale(1.0 1.2)" font-size="12.2" text-anchor="end" textLength="24.6" lengthAdjust="spacingAndGlyphs" filter="url(#f2)">More</text>
<text x="606.40" y="492.20" font-size="13.8" textLength="38.80" lengthAdjust="spacingAndGlyphs" font-weight="bold">FDW</text>
<text transform="translate(511.70 467.40) scale(1.1 1)" font-size="11.8" textLength="23.27" lengthAdjust="spacing" font-weight="bold" xml:space="preserve">Pop.</text>
<path d="M519.6 469.1V478.5" stroke="#000" stroke-width="1.5" fill="none"/>
<path d="M515.20 475.70L519.60 481.80L524.00 475.70Z" fill="#000"/>
<text transform="translate(448.10 493.40) scale(1.1 1)" font-size="11.0" textLength="34.55" lengthAdjust="spacing" filter="url(#f3)" xml:space="preserve">R43-64</text>
<path d="M477.4 495.9V506.1" stroke="#000" stroke-width="1.5" fill="none"/>
<path d="M473.00 503.30L477.40 509.40L481.80 503.30Z" fill="#000"/>
<text transform="translate(414.90 524.00) scale(1.1 1)" font-size="11.0" textLength="25.91" lengthAdjust="spacing" filter="url(#f3)" xml:space="preserve">103-2</text>
<path d="M433.5 525.7V535.6" stroke="#000" stroke-width="1.5" fill="none"/>
<path d="M429.10 532.80L433.50 538.90L437.90 532.80Z" fill="#000"/>
<rect x="86.25" y="702.70" width="11.62" height="2.10" fill="#000"/>
<rect x="131.52" y="702.07" width="11.62" height="2.74" fill="#000"/>
<rect x="154.16" y="702.70" width="11.62" height="2.10" fill="#000"/>
<rect x="176.80" y="696.73" width="11.62" height="8.07" fill="#000"/>
<rect x="199.44" y="683.92" width="11.62" height="20.88" fill="#000"/>
<rect x="222.08" y="672.17" width="11.62" height="32.63" fill="#000"/>
<rect x="244.72" y="632.68" width="11.62" height="72.12" fill="#000"/>
<rect x="267.36" y="665.77" width="11.62" height="39.03" fill="#000"/>
<rect x="289.99" y="688.19" width="11.62" height="16.61" fill="#000"/>
<rect x="312.63" y="699.93" width="11.62" height="4.87" fill="#000"/>
<rect x="335.27" y="702.70" width="11.62" height="2.10" fill="#000"/>
<text transform="translate(46.90 708.45) scale(1.1 1)" font-size="12.4" text-anchor="end" letter-spacing="0.4" filter="url(#f3)">0</text>
<text transform="translate(46.90 687.10) scale(1.1 1)" font-size="12.4" text-anchor="end" letter-spacing="0.4" filter="url(#f3)">20</text>
<text transform="translate(46.90 665.75) scale(1.1 1)" font-size="12.4" text-anchor="end" letter-spacing="0.4" filter="url(#f3)">40</text>
<text transform="translate(46.90 644.40) scale(1.1 1)" font-size="12.4" text-anchor="end" letter-spacing="0.4" filter="url(#f3)">60</text>
<text transform="translate(46.90 623.05) scale(1.1 1)" font-size="12.4" text-anchor="end" letter-spacing="0.4" filter="url(#f3)">80</text>
<path d="M53.40 704.20H58.20M53.40 682.85H58.20M53.40 661.50H58.20M53.40 640.15H58.20M53.40 618.80H58.20M58.20 704.20V708.10M80.84 704.20V708.10M103.48 704.20V708.10M126.12 704.20V708.10M148.75 704.20V708.10M171.39 704.20V708.10M194.03 704.20V708.10M216.67 704.20V708.10M239.31 704.20V708.10M261.95 704.20V708.10M284.58 704.20V708.10M307.22 704.20V708.10M329.86 704.20V708.10M352.50 704.20V708.10" stroke="#3a3a3a" stroke-width="1" fill="none"/>
<path d="M58.20 618.20V704.20H353.10" stroke="#1a1a1a" stroke-width="1.4" fill="none"/>
<text transform="translate(74.52 710.80) rotate(-90) scale(1.0 1.2)" font-size="12.2" text-anchor="end" filter="url(#f2)">28</text>
<text transform="translate(97.16 710.80) rotate(-90) scale(1.0 1.2)" font-size="12.2" text-anchor="end" filter="url(#f2)">32</text>
<text transform="translate(119.80 710.80) rotate(-90) scale(1.0 1.2)" font-size="12.2" text-anchor="end" filter="url(#f2)">36</text>
<text transform="translate(142.43 710.80) rotate(-90) scale(1.0 1.2)" font-size="12.2" text-anchor="end" filter="url(#f2)">40</text>
<text transform="translate(165.07 710.80) rotate(-90) scale(1.0 1.2)" font-size="12.2" text-anchor="end" filter="url(#f2)">44</text>
<text transform="translate(187.71 710.80) rotate(-90) scale(1.0 1.2)" font-size="12.2" text-anchor="end" filter="url(#f2)">48</text>
<text transform="translate(210.35 710.80) rotate(-90) scale(1.0 1.2)" font-size="12.2" text-anchor="end" filter="url(#f2)">52</text>
<text transform="translate(232.99 710.80) rotate(-90) scale(1.0 1.2)" font-size="12.2" text-anchor="end" filter="url(#f2)">56</text>
<text transform="translate(255.63 710.80) rotate(-90) scale(1.0 1.2)" font-size="12.2" text-anchor="end" filter="url(#f2)">60</text>
<text transform="translate(278.27 710.80) rotate(-90) scale(1.0 1.2)" font-size="12.2" text-anchor="end" filter="url(#f2)">64</text>
<text transform="translate(300.90 710.80) rotate(-90) scale(1.0 1.2)" font-size="12.2" text-anchor="end" filter="url(#f2)">68</text>
<text transform="translate(323.54 710.80) rotate(-90) scale(1.0 1.2)" font-size="12.2" text-anchor="end" filter="url(#f2)">72</text>
<text transform="translate(346.18 710.80) rotate(-90) scale(1.0 1.2)" font-size="12.2" text-anchor="end" textLength="24.6" lengthAdjust="spacingAndGlyphs" filter="url(#f2)">More</text>
<text x="277.50" y="639.20" font-size="13.8" textLength="47.30" lengthAdjust="spacingAndGlyphs" font-weight="bold">FMST</text>
<text transform="translate(249.00 619.70) scale(1.1 1)" font-size="11.8" textLength="23.91" lengthAdjust="spacing" font-weight="bold" xml:space="preserve">Pop.</text>
<path d="M250 620.1V629.5" stroke="#000" stroke-width="1.5" fill="none"/>
<path d="M245.60 626.70L250.00 632.80L254.40 626.70Z" fill="#000"/>
<text transform="translate(261.40 652.00) scale(1.1 1)" font-size="11.0" textLength="34.64" lengthAdjust="spacing" filter="url(#f3)" xml:space="preserve">R43-64</text>
<path d="M273.2 653.2V662.9" stroke="#000" stroke-width="1.5" fill="none"/>
<path d="M268.80 660.10L273.20 666.20L277.60 660.10Z" fill="#000"/>
<text transform="translate(190.20 667.20) scale(1.1 1)" font-size="11.0" textLength="26.18" lengthAdjust="spacing" filter="url(#f3)" xml:space="preserve">103-2</text>
<path d="M204.8 669.6V680" stroke="#000" stroke-width="1.5" fill="none"/>
<path d="M200.40 677.20L204.80 683.30L209.20 677.20Z" fill="#000"/>
<text transform="translate(21.3 659.40) rotate(-90) scale(1 1.31)" font-size="11.3" text-anchor="middle" filter="url(#f2)">Frequency</text>
<text x="160.60" y="741.70" font-size="11.0" textLength="60.20" lengthAdjust="spacingAndGlyphs" font-weight="bold">Data class</text>
<path d="M2 758.1H678.8" stroke="#2a2a2a" stroke-width="1.2" fill="none"/>
<text x="17.0" y="776.9" font-size="11.3" textLength="656.3" lengthAdjust="spacingAndGlyphs" filter="url(#f3)">SPQ- spring plant quality; SPHT- spring plant height; FPHT- fall plant height; SFW- spring fresh biomass weight;</text>
<text x="17.0" y="790.5" font-size="11.3" textLength="654.8" lengthAdjust="spacingAndGlyphs" filter="url(#f3)">FFW- fall fresh biomass weight; SDW- spring dry biomass weight; FDW- fall dry biomass weight; SMST- spring</text>
<text x="17.0" y="804.0" font-size="11.3" textLength="336.0" lengthAdjust="spacingAndGlyphs" filter="url(#f3)">plant moisture content; FMST- fall plant moisture content.</text>
</svg>
</body></html>
